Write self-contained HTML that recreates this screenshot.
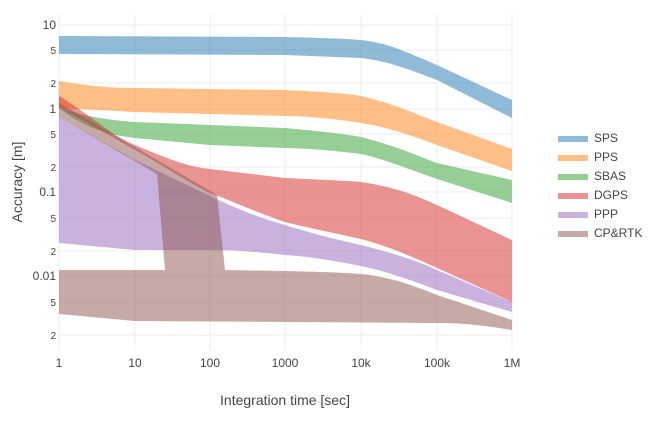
<!DOCTYPE html>
<html><head><meta charset="utf-8"><style>body{margin:0;background:#fff}svg{display:block;font-family:"Liberation Sans",sans-serif}</style></head>
<body>
<svg width="650" height="424" viewBox="0 0 650 424" xmlns="http://www.w3.org/2000/svg">
<g stroke="#eee" stroke-width="1">
<line x1="59" y1="14" x2="59" y2="350"/><line x1="135" y1="14" x2="135" y2="350"/><line x1="210" y1="14" x2="210" y2="350"/><line x1="285" y1="14" x2="285" y2="350"/><line x1="361" y1="14" x2="361" y2="350"/><line x1="437" y1="14" x2="437" y2="350"/><line x1="512" y1="14" x2="512" y2="350"/>
<line x1="59" y1="25" x2="512" y2="25"/><line x1="59" y1="50" x2="512" y2="50"/><line x1="59" y1="83" x2="512" y2="83"/><line x1="59" y1="109" x2="512" y2="109"/><line x1="59" y1="134" x2="512" y2="134"/><line x1="59" y1="167" x2="512" y2="167"/><line x1="59" y1="192" x2="512" y2="192"/><line x1="59" y1="218" x2="512" y2="218"/><line x1="59" y1="251" x2="512" y2="251"/><line x1="59" y1="276" x2="512" y2="276"/><line x1="59" y1="302" x2="512" y2="302"/><line x1="59" y1="335" x2="512" y2="335"/>
</g>
<g fill-opacity="0.5" stroke="none">
<path fill="#1f77b4" d="M59,36 L285,37 C330,38 350,39 361,40 C385,43 395,47 437,65 L512,100 L512,118 L437,80 C400,66 385,61 361,58 L285,55 L59,54 Z"/>
<path fill="#ff7f0e" d="M59,81 C90,86 110,88 135,88 L285,90 C330,92 350,94 361,96 C395,104 410,112 437,122 L512,149 L512,171 L437,145 C400,131 380,126 361,123 C330,118 300,116 285,116 L135,112 L59,108 Z"/>
<path fill="#2ca02c" d="M59,108 C80,114 95,119 135,122 L285,128 C330,132 350,135 361,137 C400,147 420,157 437,163 L512,180 L512,203 L437,179 C400,166 380,158 361,154 C330,150 300,148 285,148 L210,145 L135,138 C100,134 80,124 59,108 Z"/>
<path fill="#d62728" d="M59,96 C95,118 110,135 135,145 C170,160 190,167 210,169 L285,178 C330,180 350,181 361,182 C395,187 415,195 437,205 L512,240 L512,302 L437,268 C400,251 380,244 361,239 C320,230 300,226 285,222 C250,210 230,200 210,193 C180,178 160,163 135,150 C100,130 80,118 59,108 Z"/>
<path fill="#9467bd" d="M59,117 L135,160 L210,196 C240,210 260,218 285,225 C320,236 340,240 361,245 C400,255 420,262 437,270 L512,302 L512,312 L437,290 C400,276 380,270 361,266 C320,258 300,256 285,255 C250,251 230,250 210,250 L135,250 L59,243 Z"/>
<path fill="#8c564b" d="M59,103 L217,195 L225,270 L285,271 C330,272 350,273 361,274 C390,277 410,284 437,295 L512,320 L512,330 C470,323 450,323 437,323 L285,322 L135,321 L59,314 L59,270 L165,270 L157,174 L59,117 Z"/>
</g>
<g fill="#444" font-size="12" text-anchor="end">
<text x="56" y="29">10</text><text x="56" y="113">1</text><text x="56" y="196">0.1</text><text x="56" y="280">0.01</text>
<g font-size="10"><text x="56" y="54">5</text><text x="56" y="87">2</text><text x="56" y="138">5</text><text x="56" y="171">2</text><text x="56" y="222">5</text><text x="56" y="255">2</text><text x="56" y="306">5</text><text x="56" y="339">2</text></g>
</g>
<g fill="#444" font-size="12" text-anchor="middle">
<text x="59" y="367">1</text><text x="135" y="367">10</text><text x="210" y="367">100</text><text x="285" y="367">1000</text><text x="361" y="367">10k</text><text x="437" y="367">100k</text><text x="512" y="367">1M</text>
<text x="285" y="405" font-size="14">Integration time [sec]</text>
<text transform="translate(22,182) rotate(-90)" font-size="14">Accuracy [m]</text>
</g>
<g font-size="12" fill="#444">
<rect x="558" y="136" width="30" height="6" fill="#1f77b4" fill-opacity="0.5"/><text x="594" y="142">SPS</text>
<rect x="558" y="155" width="30" height="6" fill="#ff7f0e" fill-opacity="0.5"/><text x="594" y="161">PPS</text>
<rect x="558" y="174" width="30" height="6" fill="#2ca02c" fill-opacity="0.5"/><text x="594" y="180">SBAS</text>
<rect x="558" y="193" width="30" height="6" fill="#d62728" fill-opacity="0.5"/><text x="594" y="199">DGPS</text>
<rect x="558" y="212" width="30" height="6" fill="#9467bd" fill-opacity="0.5"/><text x="594" y="218">PPP</text>
<rect x="558" y="231" width="30" height="6" fill="#8c564b" fill-opacity="0.5"/><text x="594" y="237">CP&amp;RTK</text>
</g>
</svg>
</body></html>
